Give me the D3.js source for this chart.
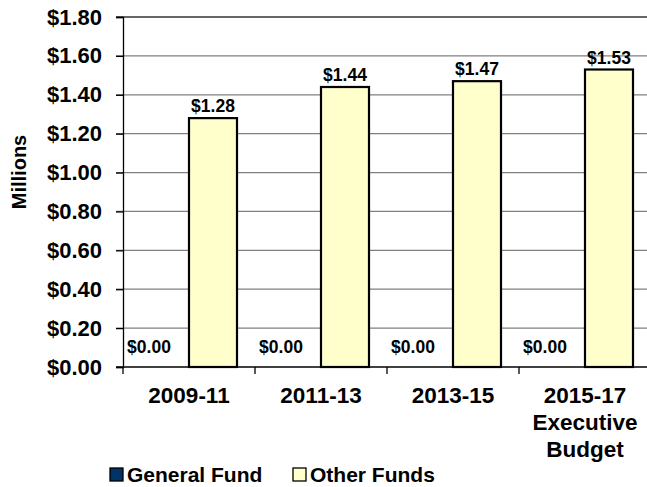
<!DOCTYPE html>
<html>
<head>
<meta charset="utf-8">
<script src="https://cdn.jsdelivr.net/npm/d3@7"></script>
<style>
  body { margin: 0; background: #fff; }
  text { font-family: Arial, "Liberation Sans", sans-serif; font-weight: bold; fill: #000; }
</style>
</head>
<body>
<div class="container"></div>
<script>
let width = 647
let height = 487

// data
let periods = ["2009-11", "2011-13", "2013-15", "2015-17"]
let periodLines = [["2009-11"], ["2011-13"], ["2013-15"], ["2015-17", "Executive", "Budget"]]
let series = ["General Fund", "Other Funds"]
let generalFund = [0.00, 0.00, 0.00, 0.00]
let otherFunds = [1.28, 1.44, 1.47, 1.53]
let yTicks = [0, 0.2, 0.4, 0.6, 0.8, 1.0, 1.2, 1.4, 1.6, 1.8]
let colors = ["#003366", "#FFFFCC"]

let plotLeft = 123, plotTop = 17, plotBottom = 367, plotRight = 651

let svg = d3.select(".container")
  .append("svg")
  .attr("width", width)
  .attr("height", height)

let x = d3.scaleBand()
  .domain(periods)
  .range([plotLeft, plotRight])

let x1 = d3.scaleBand()
  .domain(series)
  .range([0, x.bandwidth()])
  .paddingInner(0)
  .paddingOuter(0.375)

let y = d3.scaleLinear()
  .domain([0, 1.8])
  .range([plotBottom, plotTop])

// gridlines
svg.selectAll(".grid")
  .data(yTicks.slice(1))
  .enter()
  .append("line")
  .attr("class", "grid")
  .attr("x1", plotLeft - 7)
  .attr("x2", width)
  .attr("y1", function (d) { return y(d) })
  .attr("y2", function (d) { return y(d) })
  .attr("stroke", function (d) { return d === 1.8 ? "#333" : "#808080" })
  .attr("stroke-width", 1.3)

// y axis
let yAxis = svg.append("g")
  .attr("transform", `translate(${plotLeft},0)`)
  .call(d3.axisLeft(y).tickValues(yTicks).tickSize(7).tickPadding(14)
    .tickFormat(function (d) { return "$" + d3.format(".2f")(d) }))
yAxis.select(".domain").attr("stroke", "#000").attr("stroke-width", 1.3)
yAxis.selectAll(".tick line").attr("stroke", "#000").attr("stroke-width", 1.3)
yAxis.selectAll(".tick text")
  .attr("font-size", "22px")
  .attr("font-family", "Arial, 'Liberation Sans', sans-serif")
  .attr("font-weight", "bold")
  .attr("fill", "#000")

// bars
let rows = periods.map(function (p, i) {
  return { period: p, values: [generalFund[i], otherFunds[i]] }
})

let groups = svg.selectAll(".group")
  .data(rows)
  .enter()
  .append("g")
  .attr("class", "group")
  .attr("transform", function (d) { return `translate(${x(d.period)},0)` })

groups.selectAll("rect")
  .data(function (d) { return d.values.map(function (v, j) { return { s: series[j], v: v, j: j } }) })
  .enter()
  .append("rect")
  .attr("x", function (d) { return x1(d.s) })
  .attr("width", x1.bandwidth())
  .attr("y", function (d) { return y(d.v) })
  .attr("height", function (d) { return y(0) - y(d.v) })
  .attr("fill", function (d) { return colors[d.j] })
  .attr("stroke", "#000")
  .attr("stroke-width", 2.2)

// value labels
groups.append("text")
  .attr("x", function (d) { return x1("Other Funds") + x1.bandwidth() / 2 })
  .attr("y", function (d) { return y(d.values[1]) - 6 })
  .attr("text-anchor", "middle")
  .attr("font-size", "17.5px")
  .text(function (d) { return "$" + d3.format(".2f")(d.values[1]) })

groups.append("text")
  .attr("x", function (d) { return x1("General Fund") + x1.bandwidth() / 2 - 16 })
  .attr("y", y(0) - 14)
  .attr("text-anchor", "middle")
  .attr("font-size", "17.5px")
  .text(function (d) { return "$" + d3.format(".2f")(d.values[0]) })

// x axis
svg.append("line")
  .attr("x1", plotLeft - 7).attr("x2", width)
  .attr("y1", y(0)).attr("y2", y(0))
  .attr("stroke", "#000").attr("stroke-width", 1.5)

svg.selectAll(".xtick")
  .data(periods)
  .enter()
  .append("line")
  .attr("class", "xtick")
  .attr("x1", function (d) { return x(d) })
  .attr("x2", function (d) { return x(d) })
  .attr("y1", y(0))
  .attr("y2", y(0) + 7)
  .attr("stroke", "#000")
  .attr("stroke-width", 1.3)

let catText = svg.selectAll(".cat")
  .data(periodLines)
  .enter()
  .append("text")
  .attr("class", "cat")
  .attr("text-anchor", "middle")
  .attr("font-size", "22.5px")
  .attr("y", y(0) + 36)

catText.selectAll("tspan")
  .data(function (d, i) { return d.map(function (t) { return { t: t, p: periods[i] } }) })
  .enter()
  .append("tspan")
  .attr("x", function (d) { return x(d.p) + x.bandwidth() / 2 })
  .attr("dy", function (d, k) { return k === 0 ? 0 : 27 })
  .text(function (d) { return d.t })

// y title
svg.append("text")
  .attr("transform", "translate(26,172) rotate(-90)")
  .attr("text-anchor", "middle")
  .attr("font-size", "20px")
  .text("Millions")

// legend
let legendX = [110, 293]
let legend = svg.selectAll(".legend")
  .data(series)
  .enter()
  .append("g")
  .attr("class", "legend")
  .attr("transform", function (d, i) { return `translate(${legendX[i]},468)` })

legend.append("rect")
  .attr("width", 13)
  .attr("height", 13)
  .attr("fill", function (d, i) { return colors[i] })
  .attr("stroke", "#000")
  .attr("stroke-width", 1.3)

legend.append("text")
  .attr("x", 17)
  .attr("y", 14)
  .attr("font-size", "21px")
  .text(function (d) { return d })
</script>
</body>
</html>
